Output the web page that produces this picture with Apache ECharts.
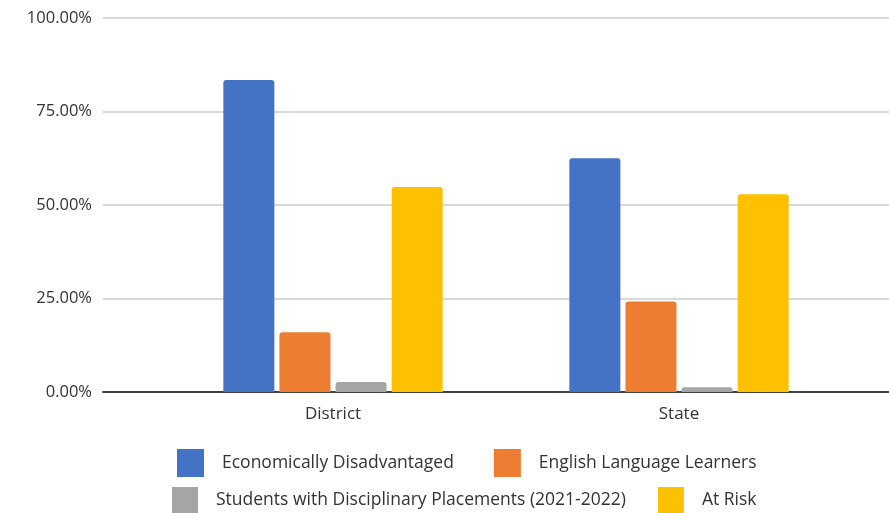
<!DOCTYPE html>
<html>
<head>
<meta charset="utf-8">
<script src="https://cdn.jsdelivr.net/npm/echarts@6/dist/echarts.min.js"></script>
<style>
  html, body { margin: 0; padding: 0; background: #fff; }
  #chart { width: 889px; height: 513px; }
</style>
</head>
<body>
<div id="chart"></div>
<script>
const categories = ['District', 'State']
const seriesNames = [
  'Economically Disadvantaged',
  'English Language Learners',
  'Students with Disciplinary Placements (2021-2022)',
  'At Risk',
]
const econDisadvantaged = [83.4, 62.5]
const englishLearners = [16.0, 24.2]
const disciplinary = [2.7, 1.3]
const atRisk = [54.8, 52.9]
const yTicks = [0, 25, 50, 75, 100]

const colors = ['#4472C4', '#ED7D31', '#A5A5A5', '#FFC000']
const values = [econDisadvantaged, englishLearners, disciplinary, atRisk]
const font = 'Open Sans, Noto Sans, sans-serif'

const chart = echarts.init(document.getElementById('chart'))

const series = seriesNames.map((name, i) => ({
  name: name,
  type: 'bar',
  xAxisIndex: 1,
  yAxisIndex: 1,
  data: values[i],
  barWidth: 51,
  barGap: '10%',
  itemStyle: { color: colors[i], borderRadius: [3, 3, 0, 0] },
}))

chart.setOption({
  animation: false,
  textStyle: { fontFamily: font },
  grid: [
    { left: 103, right: 0, top: 18, bottom: 121 },
    { left: 160, right: 37, top: 18, bottom: 121 },
  ],
  legend: [
    {
      data: seriesNames.slice(0, 2),
      left: 172,
      top: 444,
      itemWidth: 27,
      itemHeight: 28,
      itemGap: 40,
      icon: 'rect',
      textStyle: { fontSize: 17.5, color: '#333', padding: [0, 0, 0, 13], fontFamily: font },
    },
    {
      data: seriesNames.slice(2),
      left: 167,
      top: 482,
      itemWidth: 26,
      itemHeight: 27,
      itemGap: 32,
      icon: 'rect',
      textStyle: { fontSize: 17.5, color: '#333', padding: [0, 0, 0, 13], fontFamily: font },
    },
  ],
  xAxis: [
    {
      gridIndex: 0,
      type: 'value',
      min: 0,
      max: 1,
      axisLine: { show: true, lineStyle: { color: '#404040', width: 2 } },
      axisTick: { show: false },
      axisLabel: { show: false },
      splitLine: { show: false },
    },
    {
      gridIndex: 1,
      type: 'category',
      data: categories,
      axisLine: { show: false },
      axisTick: { show: false },
      axisLabel: { fontSize: 17, color: '#333', margin: 14 },
    },
  ],
  yAxis: [
    {
      gridIndex: 0,
      type: 'value',
      min: yTicks[0],
      max: yTicks[yTicks.length - 1],
      interval: yTicks[1] - yTicks[0],
      axisLine: { show: false },
      axisTick: { show: false },
      axisLabel: {
        fontSize: 16.5,
        color: '#333',
        margin: 11,
        formatter: (v) => v.toFixed(2) + '%',
      },
      splitLine: { lineStyle: { color: '#d9d9d9', width: 2 } },
    },
    {
      gridIndex: 1,
      type: 'value',
      min: 0,
      max: 100,
      show: false,
    },
  ],
  series: series,
})
</script>
</body>
</html>
